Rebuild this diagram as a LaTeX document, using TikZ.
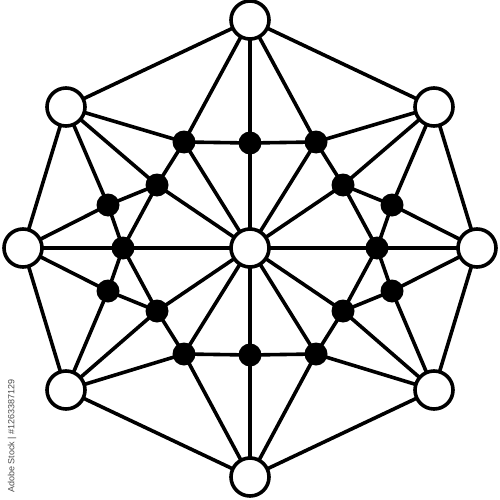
\documentclass[tikz,border=0pt]{standalone}
\usepackage{fontspec}
\setsansfont{Liberation Sans}
\pgfdeclarelayer{edges}
\pgfsetlayers{edges,main}
\begin{document}
\begin{tikzpicture}[x=1pt,y=1pt,
  hub/.style={circle,draw=black,fill=white,line width=3.6pt,minimum size=38pt,inner sep=0pt},
  dot/.style={circle,fill=black,minimum size=23pt,inner sep=0pt},
  link/.style={line width=3.6pt,line cap=round}]
\useasboundingbox (0,0) rectangle (500,499);
% white nodes
\node[hub] (C) at (250,251) {};
\node[hub] (T) at (250,479) {};
\node[hub] (B) at (250,22) {};
\node[hub] (L) at (23,251) {};
\node[hub] (R) at (477,251) {};
\node[hub] (tl) at (66,392) {};
\node[hub] (tr) at (434,392) {};
\node[hub] (bl) at (66,109) {};
\node[hub] (br) at (434,109) {};
% black nodes on axes
\node[dot] (eT) at (250,356) {};
\node[dot] (eB) at (250,144) {};
\node[dot] (dL) at (123,251) {};
\node[dot] (dR) at (377,251) {};
% black nodes per quadrant
\foreach \q/\sx/\sy in {tl/-1/1, tr/1/1, bl/-1/-1, br/1/-1}{
  \node[dot] (a\q) at (250+\sx*66, 251+\sy*106) {};
  \node[dot] (b\q) at (250+\sx*93, 251+\sy*63) {};
  \node[dot] (c\q) at (250+\sx*142, 251+\sy*43) {};
}
% connectors
\begin{pgfonlayer}{edges}
\foreach \q/\v/\h/\e/\d in {tl/T/L/eT/dL, tr/T/R/eT/dR, bl/B/L/eB/dL, br/B/R/eB/dR}{
  \draw[link] (\q.center)--(\v.center) (\q.center)--(\h.center)
    (\q.center)--(a\q.center) (\q.center)--(b\q.center) (\q.center)--(c\q.center)
    (a\q.center)--(\v.center) (a\q.center)--(\e.center) (a\q.center)--(b\q.center) (a\q.center)--(C.center)
    (b\q.center)--(c\q.center) (b\q.center)--(\d.center) (b\q.center)--(C.center)
    (c\q.center)--(\h.center) (c\q.center)--(\d.center)
    (\d.center)--(\h.center) (\d.center)--(C.center)
    (\e.center)--(\v.center) (\e.center)--(C.center);
}
\end{pgfonlayer}
% stock label
\node[rotate=90,text=black!70,font=\sffamily\fontsize{9}{9}\selectfont,inner sep=0pt] (wm) at (12,63) {Adobe Stock | \#1263387129};
\end{tikzpicture}
\end{document}
